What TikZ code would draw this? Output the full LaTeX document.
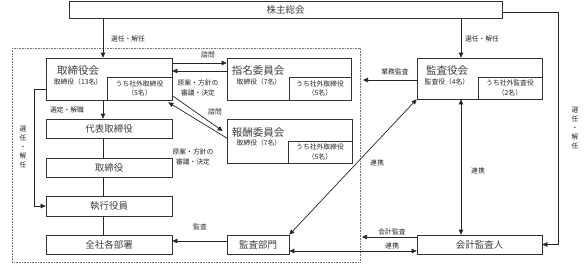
\documentclass[tikz,border=0pt]{standalone}
\usepackage{fontspec}
\setmainfont{Noto Sans CJK JP}
\usetikzlibrary{arrows.meta,calc}
\begin{document}
\begin{tikzpicture}[x=1pt,y=-1pt,
  box/.style={draw=black!80, line width=0.7pt, inner sep=0pt, anchor=center},
  big/.style={font=\fontsize{10.5}{12}\selectfont, text=black!75},
  mid/.style={font=\fontsize{9.5}{11}\selectfont, text=black!75},
  small/.style={font=\fontsize{6.8}{8}\selectfont, text=black!85, inner sep=0pt, align=center},
  lbl/.style={font=\fontsize{6.8}{8}\selectfont, text=black!85, inner sep=0pt, align=center},
  conn/.style={draw=black!85, line width=0.7pt},
  arr/.style={conn, -{Triangle[length=5pt,width=4.5pt]}},
  darr/.style={conn, {Triangle[length=5pt,width=4.5pt]}-{Triangle[length=5pt,width=4.5pt]}},
]
\useasboundingbox (0,0) rectangle (584,268);
\fill[white] (0,0) rectangle (584,268);

% dotted frame
\draw[black!55, densely dotted, line width=0.6pt] (12,48) rectangle (360,262);

% column reference coordinates
\coordinate (cx) at (103,0);
\coordinate (rx) at (461,0);

% boxes
\node[box, minimum width=433pt, minimum height=17pt, mid] (kabu) at (285.5,9.5) {株主総会};

\node[box, minimum width=126pt, minimum height=42pt] (tori) at (109,79) {};
\node[box, minimum width=65pt, minimum height=23pt] (torisub) at (139.5,88.5) {};
\node[big] (toriT) at (78,71) {取締役会};
\node[small] (toriS) at (78,82) {取締役（13名）};
\node[small] (toriU) at (139.5,88.5) {うち社外取締役\\[1.5pt]（5名）};

\node[box, minimum width=124pt, minimum height=42pt] (shimei) at (289,79) {};
\node[box, minimum width=62pt, minimum height=23pt] (shimeisub) at (320,88.5) {};
\node[big] (shimeiT) at (258,71) {指名委員会};
\node[small] (shimeiS) at (259,82) {取締役（7名）};
\node[small] (shimeiU) at (320,88.5) {うち社外取締役\\[1.5pt]（5名）};

\node[box, minimum width=125pt, minimum height=44pt] (hoshu) at (289.5,141) {};
\node[box, minimum width=64pt, minimum height=22pt] (hoshusub) at (320,152) {};
\node[big] (hoshuT) at (258,133) {報酬委員会};
\node[small] (hoshuS) at (259,143) {取締役（7名）};
\node[small] (hoshuU) at (320,152) {うち社外取締役\\[1.5pt]（5名）};

\node[box, minimum width=125pt, minimum height=41pt] (ky) at (479.5,78.5) {};
\node[box, minimum width=64pt, minimum height=22pt] (kysub) at (510,88) {};
\node[big] (kyT) at (447,71) {監査役会};
\node[small] (kyS) at (447,82) {監査役（4名）};
\node[small] (kyU) at (510,88) {うち社外監査役\\[1.5pt]（2名）};

\node[box, minimum width=126pt, minimum height=19pt, mid] (daihyo) at (109,128.5) {代表取締役};
\node[box, minimum width=126pt, minimum height=19pt, mid] (torishimari) at (109,167.5) {取締役};
\node[box, minimum width=126pt, minimum height=20pt, mid] (shikko) at (109,206) {執行役員};
\node[box, minimum width=126pt, minimum height=19pt, mid] (zensha) at (109,244.5) {全社各部署};
\node[box, minimum width=62pt, minimum height=19pt, mid] (kansabu) at (258,244.5) {監査部門};
\node[box, minimum width=125pt, minimum height=19pt, mid] (kaikei) at (479.5,244.5) {会計監査人};

% free ends
\coordinate (kkend) at (362,237);
\coordinate (gmend) at (363,80);

% connectors
\draw[arr] (kabu.south -| cx) -- (tori.north -| cx);
\node[lbl] at (128,39) {選任・解任};
\draw[arr] (kabu.south -| rx) -- (ky.north -| rx);
\node[lbl] at (482,39) {選任・解任};

\draw[arr] ($(tori.east)+(0,-16)$) -- ($(shimei.west)+(0,-16)$);
\node[lbl] at (208,55) {諮問};
\draw[arr] ($(shimei.west)+(0,-8)$) -- ($(tori.east)+(0,-8)$);
\node[lbl] at (198,83) {原案・方針の};
\node[lbl] at (198,93) {審議・決定};

\draw[arr] ($(tori.south east)+(1,-4)$) -- ($(hoshu.west)+(-4,-10)$);
\draw[arr] ($(hoshu.west)+(0,-3)$) -- ($(tori.south east)+(-4,2)$);
\node[lbl] at (215,112) {諮問};
\node[lbl] at (193,152) {原案・方針の};
\node[lbl] at (193,162) {審議・決定};

\draw[arr] (tori.south -| cx) -- (daihyo.north -| cx);
\node[lbl] at (67,110) {選定・解職};
\draw[conn] (daihyo.south -| cx) -- (torishimari.north -| cx);
\draw[conn] (torishimari.south -| cx) -- (shikko.north -| cx);
\draw[conn] (shikko.south -| cx) -- (zensha.north -| cx);

\draw[arr] ($(tori.west)+(0,10)$) -| ($(shikko.west)+(-11,0)$) -- (shikko.west);
\node[lbl, font=\fontsize{6.8}{9}\selectfont] at (23,147) {選\\任\\・\\解\\任};

\draw[arr] ($(kansabu.west)+(0,-3.5)$) -- ($(zensha.east)+(0,-3.5)$);
\node[lbl] at (200,227) {監査};

\draw[darr] ($(kansabu.east)+(0,6.5)$) -- ($(kaikei.west)+(0,6.5)$);
\node[lbl] at (392,246) {連携};
\draw[arr] ($(kaikei.west)+(0,-7.5)$) -- (kkend);
\node[lbl] at (392,232) {会計監査};

\draw[arr] ($(ky.west)+(0,1.5)$) -- (gmend);
\node[lbl] at (395,72) {業務監査};

\draw[darr] (ky.south -| rx) -- (kaikei.north -| rx);
\node[lbl] at (478,171) {連携};

\draw[darr] (kansabu.north east) -- (ky.south west);
\node[lbl] at (377,163) {連携};

\draw[arr] ($(kabu.east)+(0,2.5)$) -| ($(kaikei.east)+(16,0)$) -- (kaikei.east);
\node[lbl, font=\fontsize{6.8}{9}\selectfont] at (575,128) {選\\任\\・\\解\\任};
\end{tikzpicture}
\end{document}
